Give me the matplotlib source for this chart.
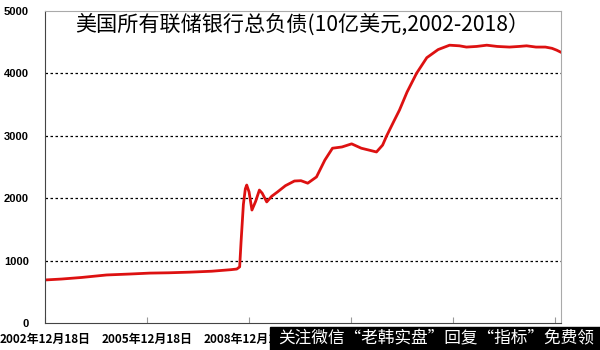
import pandas as pd
import matplotlib.pyplot as plt
from matplotlib.patches import Rectangle

plt.rcParams['font.family'] = ['Noto Sans CJK SC', 'DejaVu Sans']

# total liabilities of all Federal Reserve banks, billions USD
dates = ['2002-12-18', '2003-06-15', '2004-01-15', '2004-10-10', '2005-06-15',
         '2006-01-18', '2006-08-10', '2007-03-20', '2007-11-15', '2008-06-10',
         '2008-08-10', '2008-09-10', '2008-09-25', '2008-10-20', '2008-11-10',
         '2008-11-25', '2008-12-20', '2009-01-20', '2009-03-01', '2009-04-10',
         '2009-05-10', '2009-06-28', '2009-08-20', '2009-10-22', '2010-01-15',
         '2010-04-22', '2010-07-01', '2010-09-12', '2010-12-15', '2011-03-15',
         '2011-06-05', '2011-09-15', '2011-12-28', '2012-04-10', '2012-07-01',
         '2012-09-20', '2012-11-25', '2013-01-08', '2013-04-01', '2013-05-25',
         '2013-08-15', '2013-11-25', '2014-03-15', '2014-07-15', '2014-11-15',
         '2015-03-01', '2015-05-15', '2015-09-01', '2015-12-20', '2016-04-10',
         '2016-08-20', '2016-12-01', '2017-02-20', '2017-06-01', '2017-09-10',
         '2017-11-20', '2018-01-10', '2018-02-20']
values = [690, 705, 730, 770, 785,
          800, 805, 815, 830, 855,
          865, 900, 1300, 1900, 2150,
          2210, 2100, 1810, 1950, 2130,
          2080, 1940, 2030, 2100, 2200,
          2275, 2280, 2240, 2340, 2610,
          2800, 2820, 2870, 2800, 2770,
          2740, 2850, 3000, 3250, 3410,
          3700, 4000, 4250, 4380, 4450,
          4440, 4420, 4430, 4450, 4430,
          4420, 4430, 4440, 4420, 4420,
          4400, 4370, 4340]
tick_dates = ['2002-12-18', '2005-12-18', '2008-12-18', '2011-12-18',
              '2014-12-18', '2017-12-18']
title = '美国所有联储银行总负债(10亿美元,2002-2018）'
banner = '关注微信“老韩实盘”回复“指标”免费领'

x = pd.to_datetime(dates)
ticks = pd.to_datetime(tick_dates)

fig = plt.figure(figsize=(6, 3.5), dpi=100)
ax = fig.add_axes([0.075, 0.077, 0.86, 0.892])

ax.plot(x, values, color='#dd1111', lw=2)

ax.set_ylim(0, 5000)
ax.set_yticks([0, 1000, 2000, 3000, 4000, 5000])
ax.set_xlim(pd.Timestamp('2002-12-18'), pd.Timestamp('2018-02-25'))
ax.set_xticks(ticks)
# only the first three labels are visible, the rest sit under the banner
ax.set_xticklabels([t.strftime('%Y年%m月%d日') if i < 3 else ''
                    for i, t in enumerate(ticks)])

for v in [1000, 2000, 3000, 4000]:
    ax.axhline(v, color='black', lw=0.9, ls=(0, (2, 2)), zorder=0)

ax.tick_params(axis='y', length=0, pad=11.5)
ax.tick_params(axis='x', direction='in', length=4, color='#999999',
               pad=7, labelsize=8.5)
for lab in ax.get_yticklabels():
    lab.set_fontweight('bold')
    lab.set_fontfamily('Liberation Sans')
    lab.set_fontsize(8)
for lab in ax.get_xticklabels():
    lab.set_fontweight('bold')

ax.spines['left'].set_color('#444444')
ax.spines['bottom'].set_color('#444444')
ax.spines['top'].set_color('#aaaaaa')
ax.spines['right'].set_color('#aaaaaa')

ax.text(0.058, 0.955, title, transform=ax.transAxes, fontsize=15.2,
        ha='left', va='center')

# black banner at the bottom right
fig.patches.append(Rectangle((0.45, 0), 0.55, 0.066, transform=fig.transFigure,
                             color='black', zorder=10))
fig.text(0.727, 0.033, banner, color='white', fontsize=12,
         ha='center', va='center', zorder=11)

fig.savefig('out.png', dpi=100)
